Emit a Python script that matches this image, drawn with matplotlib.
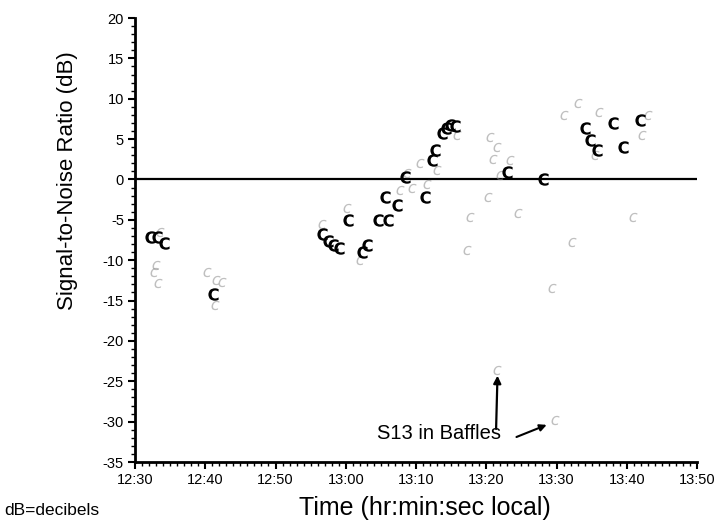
#!/usr/bin/env python3

# Signal-to-noise ratio vs. local time, scanned report figure
import matplotlib
matplotlib.use('Agg')
import matplotlib.pyplot as plt
from matplotlib.ticker import MultipleLocator

plt.rcParams['font.family'] = ['Liberation Sans', 'DejaVu Sans']

# time is minutes after 12:00 local, snr in dB
dark_time = [32.1, 33.1, 34.1, 41.1,
             56.6, 57.5, 58.2, 59.0, 60.3, 62.3, 63.0,
             64.6, 66.0, 67.3, 65.6, 71.3, 68.4,
             72.3, 72.7, 73.7, 74.3, 74.8, 75.5,
             83.0, 88.1,
             94.1, 94.8, 95.8, 98.0, 99.5, 101.9]
dark_snr = [-7.1, -7.1, -7.9, -14.2,
            -6.7, -7.6, -8.1, -8.5, -5.0, -9.0, -8.1,
            -5.0, -5.0, -3.2, -2.2, -2.2, 0.3,
            2.4, 3.7, 5.8, 6.4, 6.8, 6.6,
            0.9, 0.0,
            6.4, 4.9, 3.7, 7.0, 4.0, 7.4]

faint_time = [33.6, 33.0, 32.7, 33.3, 40.2, 41.5, 42.4, 41.4,
              56.6, 60.2, 62.0, 68.7, 69.5, 67.7, 70.5, 71.6,
              75.9, 73.0, 81.5, 81.0, 80.5, 83.4, 82.0,
              77.7, 84.5, 80.2, 77.3, 89.4, 92.2,
              93.1, 91.0, 96.0, 100.9, 103.0, 102.2, 95.5,
              81.5, 89.8]
faint_snr = [-6.5, -10.6, -11.5, -12.8, -11.5, -12.5, -12.7, -15.5,
             -5.5, -3.5, -10.0, 0.8, -1.0, -1.3, 2.0, -0.5,
             5.5, 1.2, 4.0, 2.5, 5.2, 2.4, 0.5,
             -4.6, -4.2, -2.2, -8.7, -13.4, -7.7,
             9.5, 8.0, 8.3, -4.6, 8.0, 5.5, 3.0,
             -23.6, -29.8]

tick_times = [30, 40, 50, 60, 70, 80, 90, 100, 110]
tick_labels = ['12:30', '12:40', '12:50', '13:00', '13:10',
               '13:20', '13:30', '13:40', '13:50']
y_ticks = [20, 15, 10, 5, 0, -5, -10, -15, -20, -25, -30, -35]
y_labels = ['20', '15', '10', '5', '0', '-5', '-10', '-15', '-20', '-25', '-30', '-35']

fig = plt.figure(figsize=(7.25, 5.31), dpi=100)
ax = fig.add_axes([0.1862, 0.1299, 0.7752, 0.8362])

# zero reference line
ax.plot([30, 110], [0, 0], color='black', lw=1.6, zorder=2)

ax.scatter(faint_time, faint_snr, marker='$c$', s=45, color='0.55',
           alpha=0.55, linewidths=0, zorder=3)
ax.scatter(dark_time, dark_snr, marker=r'$\mathbf{C}$', s=80, color='black',
           linewidths=0, zorder=4)

ax.set_xlim(30, 110)
ax.set_ylim(-35, 20)
ax.set_xticks(tick_times)
ax.set_xticklabels(tick_labels)
ax.set_yticks(y_ticks)
ax.set_yticklabels(y_labels)
ax.xaxis.set_minor_locator(MultipleLocator(1))
ax.yaxis.set_minor_locator(MultipleLocator(1))
ax.tick_params(which='major', direction='out', length=5, width=1.5,
               labelsize=10.5, pad=3)
ax.tick_params(which='minor', direction='out', length=3, width=1.0)

for s in ['top', 'right']:
    ax.spines[s].set_visible(False)
for s in ['left', 'bottom']:
    ax.spines[s].set_linewidth(2)

ax.set_ylabel('Signal-to-Noise Ratio (dB)', fontsize=16)
ax.yaxis.set_label_coords(-0.102, 0.633)

# annotation: label plus two arrows pointing at the baffle points
ax.text(64.4, -31.5, 'S13 in Baffles', fontsize=14.5, va='center', ha='left')
ax.annotate('', xy=(81.6, -24.3), xytext=(81.4, -30.9),
            arrowprops=dict(arrowstyle='-|>', color='black', lw=1.6,
                            mutation_scale=11, shrinkA=0, shrinkB=0))
ax.annotate('', xy=(88.6, -30.4), xytext=(84.3, -31.9),
            arrowprops=dict(arrowstyle='-|>', color='black', lw=1.5,
                            mutation_scale=10, shrinkA=0, shrinkB=0))

fig.text(425 / 725, 1 - 515 / 531, 'Time (hr:min:sec local)', fontsize=18,
         ha='center', va='baseline')
fig.text(4 / 725, 1 - 515 / 531, 'dB=decibels', fontsize=12.5,
         ha='left', va='baseline')

fig.savefig('out.png', dpi=100)
